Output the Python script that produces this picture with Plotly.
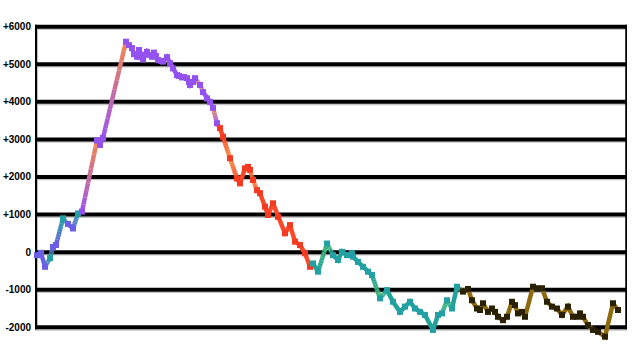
import plotly.graph_objects as go

# ---- data ----
x_vals = [2, 6, 10, 15, 18, 21, 28, 33, 38, 43, 47,
          62, 65, 68, 91,
          94, 97, 99, 102, 104, 107, 108, 112, 114, 117, 119, 121, 123, 126, 128,
          132, 135, 138, 142, 144, 147, 149, 152, 154, 155, 158, 160, 165, 168,
          172, 175, 178, 182,
          185, 188, 195, 202, 205, 210, 213, 215, 218, 222, 225, 230, 233, 238,
          243, 250, 255, 260, 265, 270, 275,
          278, 283, 292, 298, 303, 307, 312, 317, 318, 323, 328, 333, 337, 345,
          352, 358, 365, 370, 375, 380, 385, 390, 398, 403, 407, 412, 417, 422,
          428, 433, 437, 442, 445, 448, 453, 457, 460, 463, 468, 472, 477, 480,
          483, 487, 490, 498, 502, 507, 512, 517, 522, 527, 533, 538, 542, 545,
          548, 553, 558, 563, 570, 578, 583]
y_vals = [-80, -20, -390, -160, 140, 190, 900, 750, 630, 1030, 1080,
          2970, 2850, 3040, 5600,
          5510, 5430, 5270, 5200, 5380, 5250, 5130, 5330, 5250, 5200, 5310, 5220, 5110, 5090, 5070,
          5190, 5030, 4890, 4710, 4690, 4650, 4660, 4630, 4530, 4450, 4530, 4630, 4450, 4260,
          4090, 4000, 3840, 3430,
          3300, 3070, 2500, 1960, 1830, 2230, 2270, 2190, 1920, 1650, 1570, 1210, 990, 1300,
          940, 500, 720, 280, 190, -30, -390,
          -300, -520, 230, -80, -210, 10, -80, -30, -120, -260, -390, -520, -610, -1230,
          -1010, -1320, -1590, -1450, -1320, -1500, -1590, -1670, -2070, -1670, -1630, -1280, -1500, -920,
          -1050, -980, -1280, -1500, -1540, -1360, -1590, -1500, -1590, -1720, -1810, -1720, -1320, -1410,
          -1630, -1590, -1720, -920, -960, -960, -1320, -1450, -1500, -1670, -1450, -1720, -1720, -1630,
          -1720, -1940, -2070, -2120, -2250, -1360, -1540]
phase = (["B", "B", "B", "T", "B", "B", "T", "B", "B", "T", "P"]
         + ["O", "P", "P", "O"]
         + ["P"] * 27 + ["O", "P", "P", "P", "O", "P"]
         + ["R", "R", "Q", "R", "R", "R", "R", "R", "Q", "R", "R", "R", "R", "R",
            "R", "R", "R", "R", "R", "R", "R"]
         + ["T", "T", "G", "T", "T", "T", "T", "T", "T", "T", "T", "T", "T", "G",
            "T", "T", "T", "T", "T", "T", "T", "T", "T", "T", "T", "G", "T", "T"]
         + ["K"] * 35)

tick_vals = [-2000, -1000, 0, 1000, 2000, 3000, 4000, 5000, 6000]
tick_text = ["-2000", "-1000", "0", "+1000", "+2000", "+3000", "+4000", "+5000", "+6000"]

# ---- styles ----
line_col = {"B": "#6a5fe6", "T": "#22a39a", "G": "#42b672", "P": "#9b55ef",
            "O": "#f2884e", "Q": "#f7913e", "R": "#fb4a2a", "K": "#8f6b10"}
mark_col = {"B": "#6a5fe6", "T": "#22a0a4", "G": "#22a0a4", "P": "#9352f0",
            "O": "#9352f0", "Q": "#f53a22", "R": "#f53a22", "K": "#2a2104"}

X_MAX = 592
Y_RANGE = [-2391, 6098]
L, R, T, B = 35, 13, 23, 18
W, H = 640, 360
px_per_y = (H - T - B) / (Y_RANGE[1] - Y_RANGE[0])
px_per_x = (W - L - R) / X_MAX


def hex2rgb(h):
    return tuple(int(h[i:i + 2], 16) for i in (1, 3, 5))


def mix(c1, c2, t):
    a, b = hex2rgb(c1), hex2rgb(c2)
    return "#%02x%02x%02x" % tuple(round(a[k] + (b[k] - a[k]) * t) for k in range(3))


# Build line pieces: runs of same-colour segments stay continuous; colour changes fade.
pieces = {}  # colour -> (xs, ys)


def add_piece(col, xs, ys):
    px, py = pieces.setdefault(col, ([], []))
    if px:
        px.append(None)
        py.append(None)
    px.extend(xs)
    py.extend(ys)


n = len(x_vals)
run_x, run_y, run_col = [x_vals[0]], [y_vals[0]], line_col[phase[0]]
for i in range(n - 1):
    c0, c1 = line_col[phase[i]], line_col[phase[i + 1]]
    if c0 == c1:
        if run_col != c0:
            if len(run_x) > 1:
                add_piece(run_col, run_x, run_y)
            run_x, run_y, run_col = [x_vals[i]], [y_vals[i]], c0
        run_x.append(x_vals[i + 1])
        run_y.append(y_vals[i + 1])
    else:
        if len(run_x) > 1:
            add_piece(run_col, run_x, run_y)
        k = 10
        for s in range(k):
            t0, t1 = s / k, (s + 1) / k
            xa = x_vals[i] + (x_vals[i + 1] - x_vals[i]) * t0
            xb = x_vals[i] + (x_vals[i + 1] - x_vals[i]) * t1
            ya = y_vals[i] + (y_vals[i + 1] - y_vals[i]) * t0
            yb = y_vals[i] + (y_vals[i + 1] - y_vals[i]) * t1
            add_piece(mix(c0, c1, (t0 + t1) / 2), [xa, xb], [ya, yb])
        run_x, run_y, run_col = [x_vals[i + 1]], [y_vals[i + 1]], c1
if len(run_x) > 1:
    add_piece(run_col, run_x, run_y)

fig = go.Figure()
for col, (xs, ys) in pieces.items():
    fig.add_trace(go.Scatter(x=xs, y=ys, mode="lines",
                             line=dict(color=col, width=4.5),
                             hoverinfo="skip", showlegend=False))

fig.add_trace(go.Scatter(x=x_vals, y=y_vals, mode="markers",
                         marker=dict(symbol="square", size=6,
                                     color=[mark_col[p] for p in phase], line=dict(width=0)),
                         showlegend=False, cliponaxis=False))

# grid / frame
shapes = []
dy = 2.6 / px_per_y
dx = 2.4 / px_per_x
for v in tick_vals:
    shapes.append(dict(type="line", xref="x", yref="y", x0=0, x1=X_MAX + dx,
                       y0=v - dy, y1=v - dy, line=dict(color="#c4c4c4", width=1.5), layer="below"))
for xv in (0, X_MAX):
    shapes.append(dict(type="line", xref="x", yref="y", x0=xv + dx, x1=xv + dx,
                       y0=-2000 - dy, y1=6000, line=dict(color="#c4c4c4", width=1.5), layer="below"))
for v in tick_vals:
    shapes.append(dict(type="line", xref="x", yref="y", x0=-2 / px_per_x, x1=X_MAX + 2 / px_per_x,
                       y0=v, y1=v, line=dict(color="black", width=4), layer="below"))
for xv in (0, X_MAX):
    shapes.append(dict(type="line", xref="x", yref="y", x0=xv, x1=xv,
                       y0=-2000 - 2 / px_per_y, y1=6000 + 2 / px_per_y,
                       line=dict(color="black", width=4 if xv == 0 else 3.5), layer="below"))

fig.update_layout(
    width=W, height=H,
    margin=dict(l=L, r=R, t=T, b=B, pad=0, autoexpand=False),
    paper_bgcolor="white", plot_bgcolor="white",
    shapes=shapes,
    xaxis=dict(range=[0, X_MAX], showgrid=False, zeroline=False, showline=False,
               showticklabels=False, ticks="", automargin=False),
    yaxis=dict(range=Y_RANGE, showgrid=False, zeroline=False, showline=False,
               tickvals=tick_vals, ticktext=tick_text, ticks="", automargin=False,
               ticklabelstandoff=3,
               tickfont=dict(family="Liberation Sans", size=10, color="black", weight="bold")),
)

fig.write_html("out.html")
